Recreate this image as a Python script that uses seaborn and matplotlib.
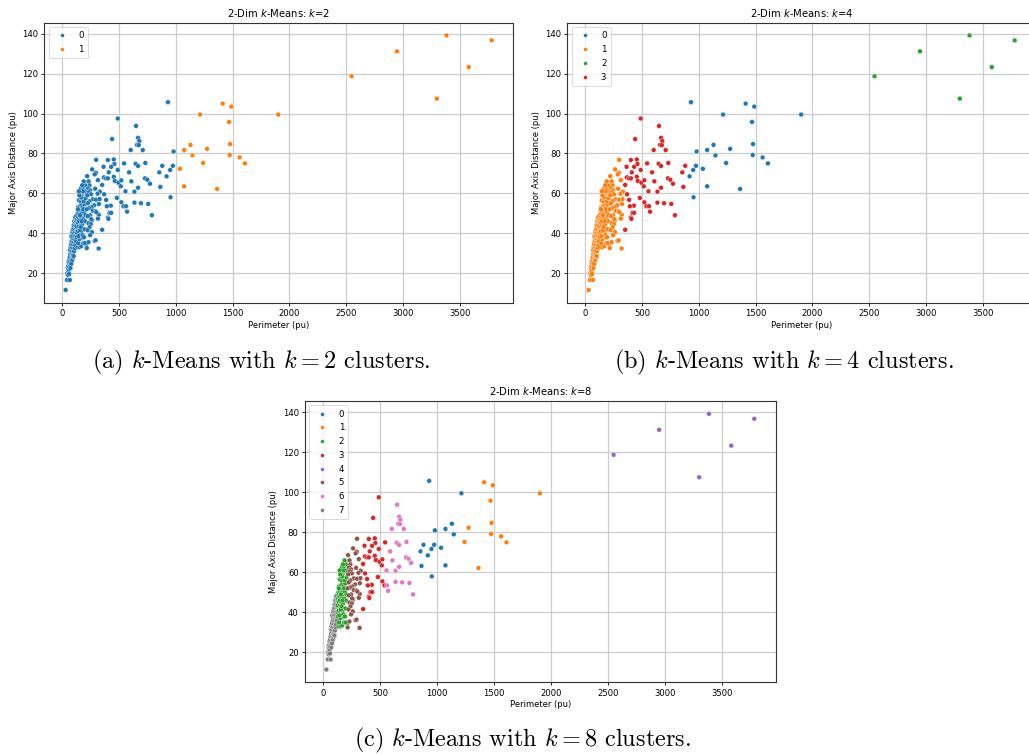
import numpy as np
import pandas as pd
import matplotlib
matplotlib.use("Agg")
import matplotlib.pyplot as plt
import seaborn as sns

# ---- data: points grouped by region (perimeter, major axis distance) ----
grp_a_perim = [29, 41, 66, 44, 49, 54, 47, 58, 52, 61, 66, 56, 71, 62, 76, 66, 82, 70, 86, 75,
               92, 68, 80, 97, 73, 86, 102, 78, 92, 108, 83, 97, 113, 88, 102, 118, 80, 93, 107, 122,
               88, 98, 112, 126, 94, 104, 117, 130, 100, 110, 122, 106, 116, 128, 112, 122, 95, 104, 110, 115,
               120, 90, 100, 84, 78, 72, 60, 128]
grp_a_major = [11.5, 16.5, 16.5, 20, 19, 21, 22.5, 21.5, 23.5, 23, 24.5, 25.5, 25.5, 26.5, 27, 28, 28, 29.5, 29.5, 30.5,
               30.5, 31.5, 31.5, 32, 33, 33, 33.5, 34.5, 34.5, 35, 36, 36, 36.5, 37.5, 37.5, 38, 38.5, 39, 39, 39.5,
               40.5, 40.5, 41, 41.5, 42, 42.5, 43, 43, 44, 44.5, 45, 46, 46.5, 46, 48, 48.5, 29, 31, 32.5, 34,
               36, 27, 28.5, 26, 24.5, 22.5, 19.5, 40]

grp_b_perim = [135, 152, 167, 140, 185, 210, 150, 181, 128, 160, 138, 170, 195, 126, 145, 158, 175, 130, 140, 150,
               165, 185, 200, 135, 148, 160, 172, 190, 205, 140, 155, 168, 180, 195, 145, 160, 175, 190, 205, 158,
               172, 190, 200, 165, 182, 196, 200, 188, 142, 155, 135, 148, 162, 178, 192, 200, 170, 155, 138, 185,
               165, 150, 180, 145, 175]
grp_b_major = [33, 33, 33.5, 35, 35, 34.5, 37, 37.8, 38, 39.5, 41, 41, 42, 43.5, 44, 45, 44.5, 47, 48, 47.5,
               48, 47, 46, 50, 50.5, 51, 50, 50.5, 49, 53, 53.5, 54, 53, 54.5, 56.5, 56, 57, 56, 57.5, 60.8,
               59.5, 60.5, 61, 62.5, 63, 65.3, 64, 66, 38.5, 41.5, 45.5, 46, 43, 39, 38, 35, 46, 49, 52, 52,
               58, 59, 61, 61, 64]

grp_c_perim = [298, 263, 219, 295, 285, 313, 232, 240, 228, 245, 236, 289, 330, 252, 310, 220, 269, 298, 328, 240,
               225, 322, 280, 258, 235, 269, 292, 321, 300, 245, 225, 313, 262, 230, 251, 240, 222, 260, 245, 231,
               284, 293, 320, 215, 255, 215]
grp_c_major = [76.8, 72, 68.6, 70.3, 69.5, 66.6, 66, 64, 62.5, 61.5, 60.5, 62.3, 60.8, 59.5, 59.8, 59, 57, 56.8, 57.1, 56,
               55, 54.6, 54, 53, 52.5, 51.2, 51, 49.2, 50.5, 49, 48.5, 47.3, 46.5, 45, 44.5, 43, 41.5, 40.5, 39, 35.5,
               36.1, 36.4, 32.3, 32.5, 47, 52]

grp_d_perim = [488, 439, 401, 453, 459, 544, 363, 430, 488, 409, 366, 384, 401, 453, 462, 494, 520, 515, 351, 368,
               386, 480, 427, 392, 520, 538, 415, 430, 401, 406, 351]
grp_d_major = [97.5, 87.2, 76.7, 77, 74.7, 75, 73.3, 73.3, 71.7, 70.5, 68, 67.5, 67.5, 68.3, 66.2, 65.3, 66.5, 63.5, 64.2, 59.5,
               56.7, 57.7, 53.8, 53.5, 55.5, 53.5, 50.2, 50.2, 47.8, 47.2, 41.7]

grp_e_perim = [649, 667, 678, 658, 673, 602, 708, 646, 667, 731, 728, 749, 772, 608, 667, 556, 635, 588, 635, 693,
               757, 561, 570, 789]
grp_e_major = [93.8, 87.8, 86.2, 84.3, 84.2, 81.7, 81.7, 74.8, 73.7, 75.2, 67.5, 66.8, 64.8, 66, 62.8, 61, 60.8, 70.5, 55.3, 55,
               54.7, 53.5, 50.8, 49]

grp_f_perim = [880, 854, 863]
grp_f_major = [73.8, 70.5, 63.2]

grp_g_perim = [930, 980, 974, 950, 918, 953]
grp_g_major = [105.7, 81, 73.8, 71.7, 68.5, 58]

grp_h_perim = [1213, 1129, 1073, 1146, 1035, 1073]
grp_h_major = [99.5, 84.3, 81.7, 79, 72.3, 63.5]

grp_i_perim = [1412, 1488, 1901, 1468, 1477, 1275, 1474, 1561, 1608, 1240, 1363]
grp_i_major = [105, 103.5, 99.5, 95.8, 84.7, 82.3, 79.2, 78, 75, 75.2, 62.2]

grp_j_perim = [2547, 2947, 3383, 3781, 3579, 3298]
grp_j_major = [118.7, 131.2, 139.2, 136.7, 123.3, 107.5]

# cluster label of each group for k = 2, 4, 8
groups_label_k2 = [0, 0, 0, 0, 0, 0, 0, 1, 1, 1]
groups_label_k4 = [1, 1, 1, 3, 3, 3, 0, 0, 0, 2]
groups_label_k8 = [7, 2, 5, 3, 6, 0, 0, 0, 1, 4]

ks = [2, 4, 8]
captions = ["(a) $k$-Means with $k=2$ clusters.",
            "(b) $k$-Means with $k=4$ clusters.",
            "(c) $k$-Means with $k=8$ clusters."]

# ---- assemble dataframe ----
perims = [grp_a_perim, grp_b_perim, grp_c_perim, grp_d_perim, grp_e_perim,
          grp_f_perim, grp_g_perim, grp_h_perim, grp_i_perim, grp_j_perim]
majors = [grp_a_major, grp_b_major, grp_c_major, grp_d_major, grp_e_major,
          grp_f_major, grp_g_major, grp_h_major, grp_i_major, grp_j_major]
rows = []
for gi, (px, my) in enumerate(zip(perims, majors)):
    for x, y in zip(px, my):
        rows.append((x, y, groups_label_k2[gi], groups_label_k4[gi], groups_label_k8[gi]))
df = pd.DataFrame(rows, columns=["Perimeter", "Major", "k2", "k4", "k8"])

fig = plt.figure(figsize=(10.29, 7.55), dpi=100)
W, H = 1029, 755
def box(l, t, r, b):
    return [l / W, 1 - b / H, (r - l) / W, (b - t) / H]

axes = [fig.add_axes(box(44.3, 22.7, 513, 302.7)),
        fig.add_axes(box(567.3, 22.7, 1036, 302.7)),
        fig.add_axes(box(305, 401, 775.7, 682.3))]
cap_pos = [(261, 362), (784, 362), (522, 740)]

pal = sns.color_palette("tab10")
for ax, k, cap, cp in zip(axes, ks, captions, cap_pos):
    col = "k%d" % k
    d = df.copy()
    d[col] = d[col].astype(str)
    order = [str(i) for i in range(k)]
    sns.scatterplot(data=d, x="Perimeter", y="Major", hue=col, hue_order=order,
                    palette=pal[:k], s=12, linewidth=0.25, edgecolor="white", ax=ax)
    ax.grid(True, color="#cccccc", linewidth=0.9)
    ax.set_axisbelow(True)
    ax.set_xticks([0, 500, 1000, 1500, 2000, 2500, 3000, 3500])
    ax.set_yticks([20, 40, 60, 80, 100, 120, 140])
    ax.tick_params(labelsize=6.1, length=2.5, width=0.6, pad=2)
    for s in ax.spines.values():
        s.set_linewidth(0.8)
        s.set_color("#333333")
    ax.set_xlabel("Perimeter (pu)", fontsize=6, labelpad=2)
    ax.set_ylabel("Major Axis Distance (pu)", fontsize=6, labelpad=3)
    ax.set_title("2-Dim $k$-Means: $k$=%d" % k, fontsize=7.2, pad=4)
    leg = ax.legend(loc="upper left", fontsize=6.2, markerscale=0.8,
                    handletextpad=0.9, borderpad=0.5, labelspacing=0.55)
    leg.get_frame().set_linewidth(0.6)
    fig.text(cp[0] / W, 1 - cp[1] / H, cap, ha="center", va="center",
             fontsize=17.5, family="cmr10", math_fontfamily="cm")

fig.savefig("out.png", dpi=100)
